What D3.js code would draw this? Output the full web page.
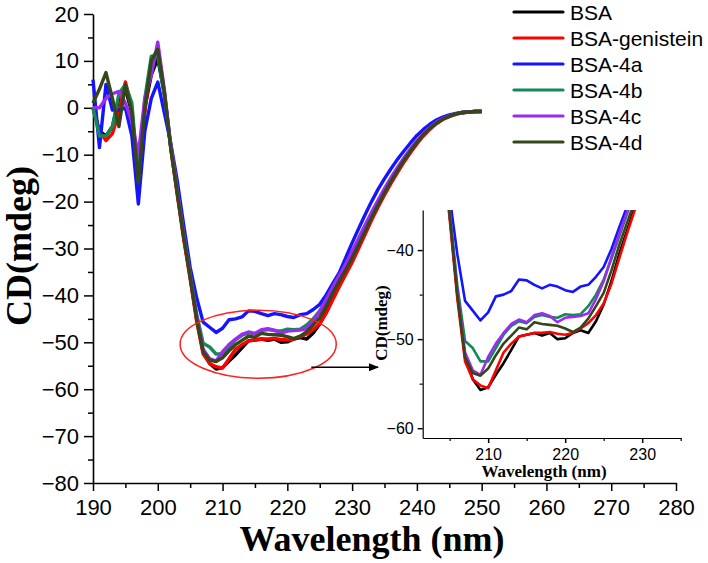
<!DOCTYPE html>
<html>
<head>
<meta charset="utf-8">
<script src="https://cdn.jsdelivr.net/npm/d3@7/dist/d3.min.js"></script>
<style>
  html, body { margin: 0; padding: 0; background: #fff; }
  svg { display: block; }
</style>
</head>
<body>
<svg id="chart" width="708" height="563"></svg>
<script>
// ---------------- DATA ----------------
const wavelength = [190,191,192,193,194,195,196,197,198,199,200,
  201,202,203,204,205,206,207,208,209,210,
  211,212,213,214,215,216,217,218,219,220,
  221,222,223,224,225,226,227,228,229,230,
  231,232,233,234,235,236,237,238,239,240,
  241,242,243,244,245,246,247,248,249,250];

const seriesNames = ["BSA", "BSA-genistein", "BSA-4a", "BSA-4b", "BSA-4c", "BSA-4d"];
const seriesColors = ["#000000", "#ff0000", "#1414ff", "#138a55", "#9a2cf2", "#34461a"];

const bsa = [0,-5,-6,-4,2,4,-1,-15,0,7,10.5,
  3,-8.5,-18,-27.5,-36,-45,-52,-54.5,-55.7,-55.4,
  -54,-52.7,-51.2,-49.7,-49.5,-49.3,-49.6,-49.3,-50,-49.9,
  -49.3,-49,-49.3,-48,-46.1,-43.5,-40.5,-37.9,-35.3,-32.5,
  -29.5,-26.5,-23.5,-20.8,-18.2,-15.8,-13.5,-11.3,-9.3,-7.5,
  -5.8,-4.4,-3.3,-2.4,-1.8,-1.3,-1.0,-0.9,-0.8,-0.8];

const bsaGenistein = [0,-5,-7,-5.5,-1,5.5,0,-17,-1,10,12.5,
  3.5,-8.5,-18.5,-28,-36.5,-45.5,-52.5,-54.5,-55.2,-55.5,
  -53.5,-51.5,-50.5,-49.7,-49.5,-49.3,-49.3,-49.2,-49.4,-49.5,
  -49.3,-48.8,-48.2,-47.3,-46,-43.8,-41,-38.2,-35.6,-33,
  -30,-27,-24,-21.2,-18.6,-16.1,-13.8,-11.6,-9.6,-7.7,
  -6,-4.6,-3.4,-2.5,-1.9,-1.4,-1.1,-0.9,-0.8,-0.8];

const bsa4a = [6,-8.5,5,-0.5,-0.5,0,-6,-20.5,-5,2,5.5,
  -1,-7.5,-15.5,-25,-34,-40.5,-45.7,-46.8,-47.9,-47,
  -45.2,-45,-44.6,-43.3,-43.4,-43.9,-44.3,-43.9,-44.1,-44.5,
  -44.7,-44.1,-43.9,-43,-41.9,-39.9,-37.5,-35.2,-32,-28.8,
  -25.8,-22.8,-20,-17.4,-15.1,-13,-11,-9.2,-7.5,-5.9,
  -4.6,-3.5,-2.6,-2,-1.5,-1.2,-1,-0.9,-0.8,-0.7];

const bsa4b = [0,-6,-6,-4,3,5,1,-15.5,2,11,11,
  3,-8,-17.5,-27,-35.5,-44,-50.2,-51,-52.5,-52.5,
  -51,-49.5,-48.5,-48,-48.2,-47.5,-47.3,-47.5,-47.6,-47.2,
  -47.3,-47.2,-46.3,-45,-43.3,-41,-38.5,-36,-33.6,-31,
  -28.2,-25.4,-22.6,-20,-17.5,-15.2,-13,-10.9,-9,-7.2,
  -5.6,-4.3,-3.2,-2.4,-1.8,-1.3,-1,-0.9,-0.8,-0.8];

const bsa4c = [0,0,2,3,3.5,1,-3,-10,2,7,14,
  4,-8,-17.5,-27,-35.8,-44.5,-51.5,-53.5,-54,-52,
  -50.5,-49.3,-48.3,-47.8,-48.1,-47.3,-47.1,-47.4,-48.1,-47.6,
  -47.5,-47.4,-47.1,-45.5,-43.5,-40.8,-38.2,-35.8,-33.3,-30.6,
  -27.8,-25,-22.3,-19.7,-17.2,-14.9,-12.7,-10.7,-8.8,-7,
  -5.5,-4.2,-3.1,-2.3,-1.7,-1.3,-1,-0.9,-0.8,-0.8];

const bsa4d = [1,4,7.5,2,-4,5,-1,-16,0,10,12.5,
  3.5,-8.5,-18,-27.5,-36,-45,-52,-53.8,-54.1,-53.3,
  -51.8,-50.5,-49.6,-48.7,-48.9,-48.1,-48.3,-48.4,-48.5,-48.8,
  -49.2,-48.7,-47.7,-46.3,-44.8,-42.3,-39.5,-37,-34.6,-32,
  -29.2,-26.3,-23.4,-20.7,-18.1,-15.7,-13.4,-11.2,-9.2,-7.4,
  -5.7,-4.4,-3.3,-2.4,-1.8,-1.3,-1,-0.9,-0.8,-0.8];

const seriesValues = [bsa, bsaGenistein, bsa4a, bsa4b, bsa4c, bsa4d];

const xTicksMain = [190,200,210,220,230,240,250,260,270,280];
const xMinorMain = [195,205,215,225,235,245,255,265,275];
const yTicksMain = [20,10,0,-10,-20,-30,-40,-50,-60,-70,-80];
const yMinorMain = [15,5,-5,-15,-25,-35,-45,-55,-65,-75];

const xTicksInset = [210,220,230];
const xMinorInset = [205,215,225,235];
const yTicksInset = [-40,-50,-60];
const yMinorInset = [-45,-55];

// ---------------- DRAW ----------------
const svg = d3.select("#chart");

const x = d3.scaleLinear().domain([190, 280]).range([93, 676]);
const y = d3.scaleLinear().domain([-80, 20]).range([483, 14]);

const tickFont = "'Liberation Sans', Arial, sans-serif";
const titleFont = "'Liberation Serif', 'Times New Roman', serif";

function styleAxis(g, fs) {
  g.select(".domain").attr("stroke", "#000").attr("stroke-width", 1.6);
  g.selectAll(".tick line").attr("stroke", "#000").attr("stroke-width", 1.5);
  g.selectAll(".tick text").attr("fill", "#000").attr("font-family", tickFont).attr("font-size", fs);
}

// main axes
const gx = svg.append("g").attr("transform", `translate(0,${y(-80)})`)
  .call(d3.axisBottom(x).tickValues(xTicksMain).tickSize(8).tickSizeOuter(0).tickPadding(8).tickFormat(d3.format("d")));
styleAxis(gx, 22);
const gxm = svg.append("g").attr("transform", `translate(0,${y(-80)})`)
  .call(d3.axisBottom(x).tickValues(xMinorMain).tickSize(5).tickSizeOuter(0).tickFormat(""));
gxm.select(".domain").remove();
gxm.selectAll(".tick line").attr("stroke", "#000").attr("stroke-width", 1.5);

const gy = svg.append("g").attr("transform", `translate(${x(190)},0)`)
  .call(d3.axisLeft(y).tickValues(yTicksMain).tickSize(9).tickSizeOuter(0).tickPadding(5).tickFormat(d3.format("d")));
styleAxis(gy, 22);
const gym = svg.append("g").attr("transform", `translate(${x(190)},0)`)
  .call(d3.axisLeft(y).tickValues(yMinorMain).tickSize(5).tickSizeOuter(0).tickFormat(""));
gym.select(".domain").remove();
gym.selectAll(".tick line").attr("stroke", "#000").attr("stroke-width", 1.5);

// axis titles
svg.append("text").attr("x", 372).attr("y", 551).attr("text-anchor", "middle")
  .attr("font-family", titleFont).attr("font-weight", "bold").attr("font-size", 36)
  .text("Wavelength (nm)");
svg.append("text").attr("transform", "translate(31,246) rotate(-90)").attr("text-anchor", "middle")
  .attr("font-family", titleFont).attr("font-weight", "bold").attr("font-size", 36)
  .text("CD(mdeg)");

// main lines
const line = d3.line().x((d, i) => x(wavelength[i])).y(d => y(d));
seriesValues.forEach((vals, k) => {
  svg.append("path").datum(vals)
    .attr("fill", "none").attr("stroke", seriesColors[k]).attr("stroke-width", 3.4)
    .attr("stroke-linejoin", "round").attr("d", line);
});

// ellipse highlight + arrow
svg.append("ellipse")
  .attr("cx", x(215.5)).attr("cy", y(-50.4))
  .attr("rx", x(215.5 + 12.05) - x(215.5)).attr("ry", y(-50.4 - 7.25) - y(-50.4))
  .attr("fill", "none").attr("stroke", "#ff2020").attr("stroke-width", 1.5);

svg.append("defs").append("marker").attr("id", "arr")
  .attr("viewBox", "0 0 10 10").attr("refX", 9).attr("refY", 5)
  .attr("markerWidth", 7).attr("markerHeight", 7).attr("orient", "auto")
  .append("path").attr("d", "M0,1 L10,5 L0,9 Z").attr("fill", "#000");
svg.append("line")
  .attr("x1", x(223.7)).attr("y1", y(-55.3)).attr("x2", x(234.0)).attr("y2", y(-55.3))
  .attr("stroke", "#000").attr("stroke-width", 1.5).attr("marker-end", "url(#arr)");

// ---------------- INSET ----------------
const xi = d3.scaleLinear().domain([201.5, 235]).range([422.7, 680.7]);
const yi = d3.scaleLinear().domain([-61.1, -35.5]).range([438, 210]);

svg.append("clipPath").attr("id", "insetClip").append("rect")
  .attr("x", xi(201.5)).attr("y", yi(-35.5)).attr("width", xi(235) - xi(201.5)).attr("height", yi(-61.1) - yi(-35.5));

const ix = svg.append("g").attr("transform", `translate(0,${yi(-61.1)})`)
  .call(d3.axisBottom(xi).tickValues(xTicksInset).tickSize(5).tickSizeOuter(0).tickPadding(6).tickFormat(d3.format("d")));
styleAxis(ix, 16);
ix.select(".domain").attr("stroke-width", 1.2);
const ixm = svg.append("g").attr("transform", `translate(0,${yi(-61.1)})`)
  .call(d3.axisBottom(xi).tickValues(xMinorInset).tickSize(3).tickSizeOuter(0).tickFormat(""));
ixm.select(".domain").remove();
ixm.selectAll(".tick line").attr("stroke", "#000").attr("stroke-width", 1.2);

const iy = svg.append("g").attr("transform", `translate(${xi(201.5)},0)`)
  .call(d3.axisLeft(yi).tickValues(yTicksInset).tickSize(5).tickSizeOuter(0).tickPadding(4).tickFormat(d3.format("d")));
styleAxis(iy, 16);
iy.select(".domain").attr("stroke-width", 1.2);
const iym = svg.append("g").attr("transform", `translate(${xi(201.5)},0)`)
  .call(d3.axisLeft(yi).tickValues(yMinorInset).tickSize(3).tickSizeOuter(0).tickFormat(""));
iym.select(".domain").remove();
iym.selectAll(".tick line").attr("stroke", "#000").attr("stroke-width", 1.2);

svg.append("text").attr("x", 544).attr("y", 477).attr("text-anchor", "middle")
  .attr("font-family", titleFont).attr("font-weight", "bold").attr("font-size", 17)
  .text("Wavelength (nm)");
svg.append("text").attr("transform", "translate(387,323) rotate(-90)").attr("text-anchor", "middle")
  .attr("font-family", titleFont).attr("font-weight", "bold").attr("font-size", 17)
  .text("CD(mdeg)");

const lineI = d3.line().x((d, i) => xi(wavelength[i])).y(d => yi(d));
const insetG = svg.append("g").attr("clip-path", "url(#insetClip)");
seriesValues.forEach((vals, k) => {
  insetG.append("path").datum(vals)
    .attr("fill", "none").attr("stroke", seriesColors[k]).attr("stroke-width", 2.6)
    .attr("stroke-linejoin", "round").attr("d", lineI);
});

// ---------------- LEGEND ----------------
const legendY = [12, 38, 64, 90, 116, 142];
const lg = svg.append("g");
seriesNames.forEach((name, k) => {
  lg.append("line").attr("x1", 514).attr("x2", 563).attr("y1", legendY[k]).attr("y2", legendY[k])
    .attr("stroke", seriesColors[k]).attr("stroke-width", 3.2).attr("stroke-linecap", "round");
  lg.append("text").attr("x", 570).attr("y", legendY[k] + 7.5)
    .attr("font-family", tickFont).attr("font-size", 21).attr("fill", "#000")
    .text(name);
});
</script>
</body>
</html>
